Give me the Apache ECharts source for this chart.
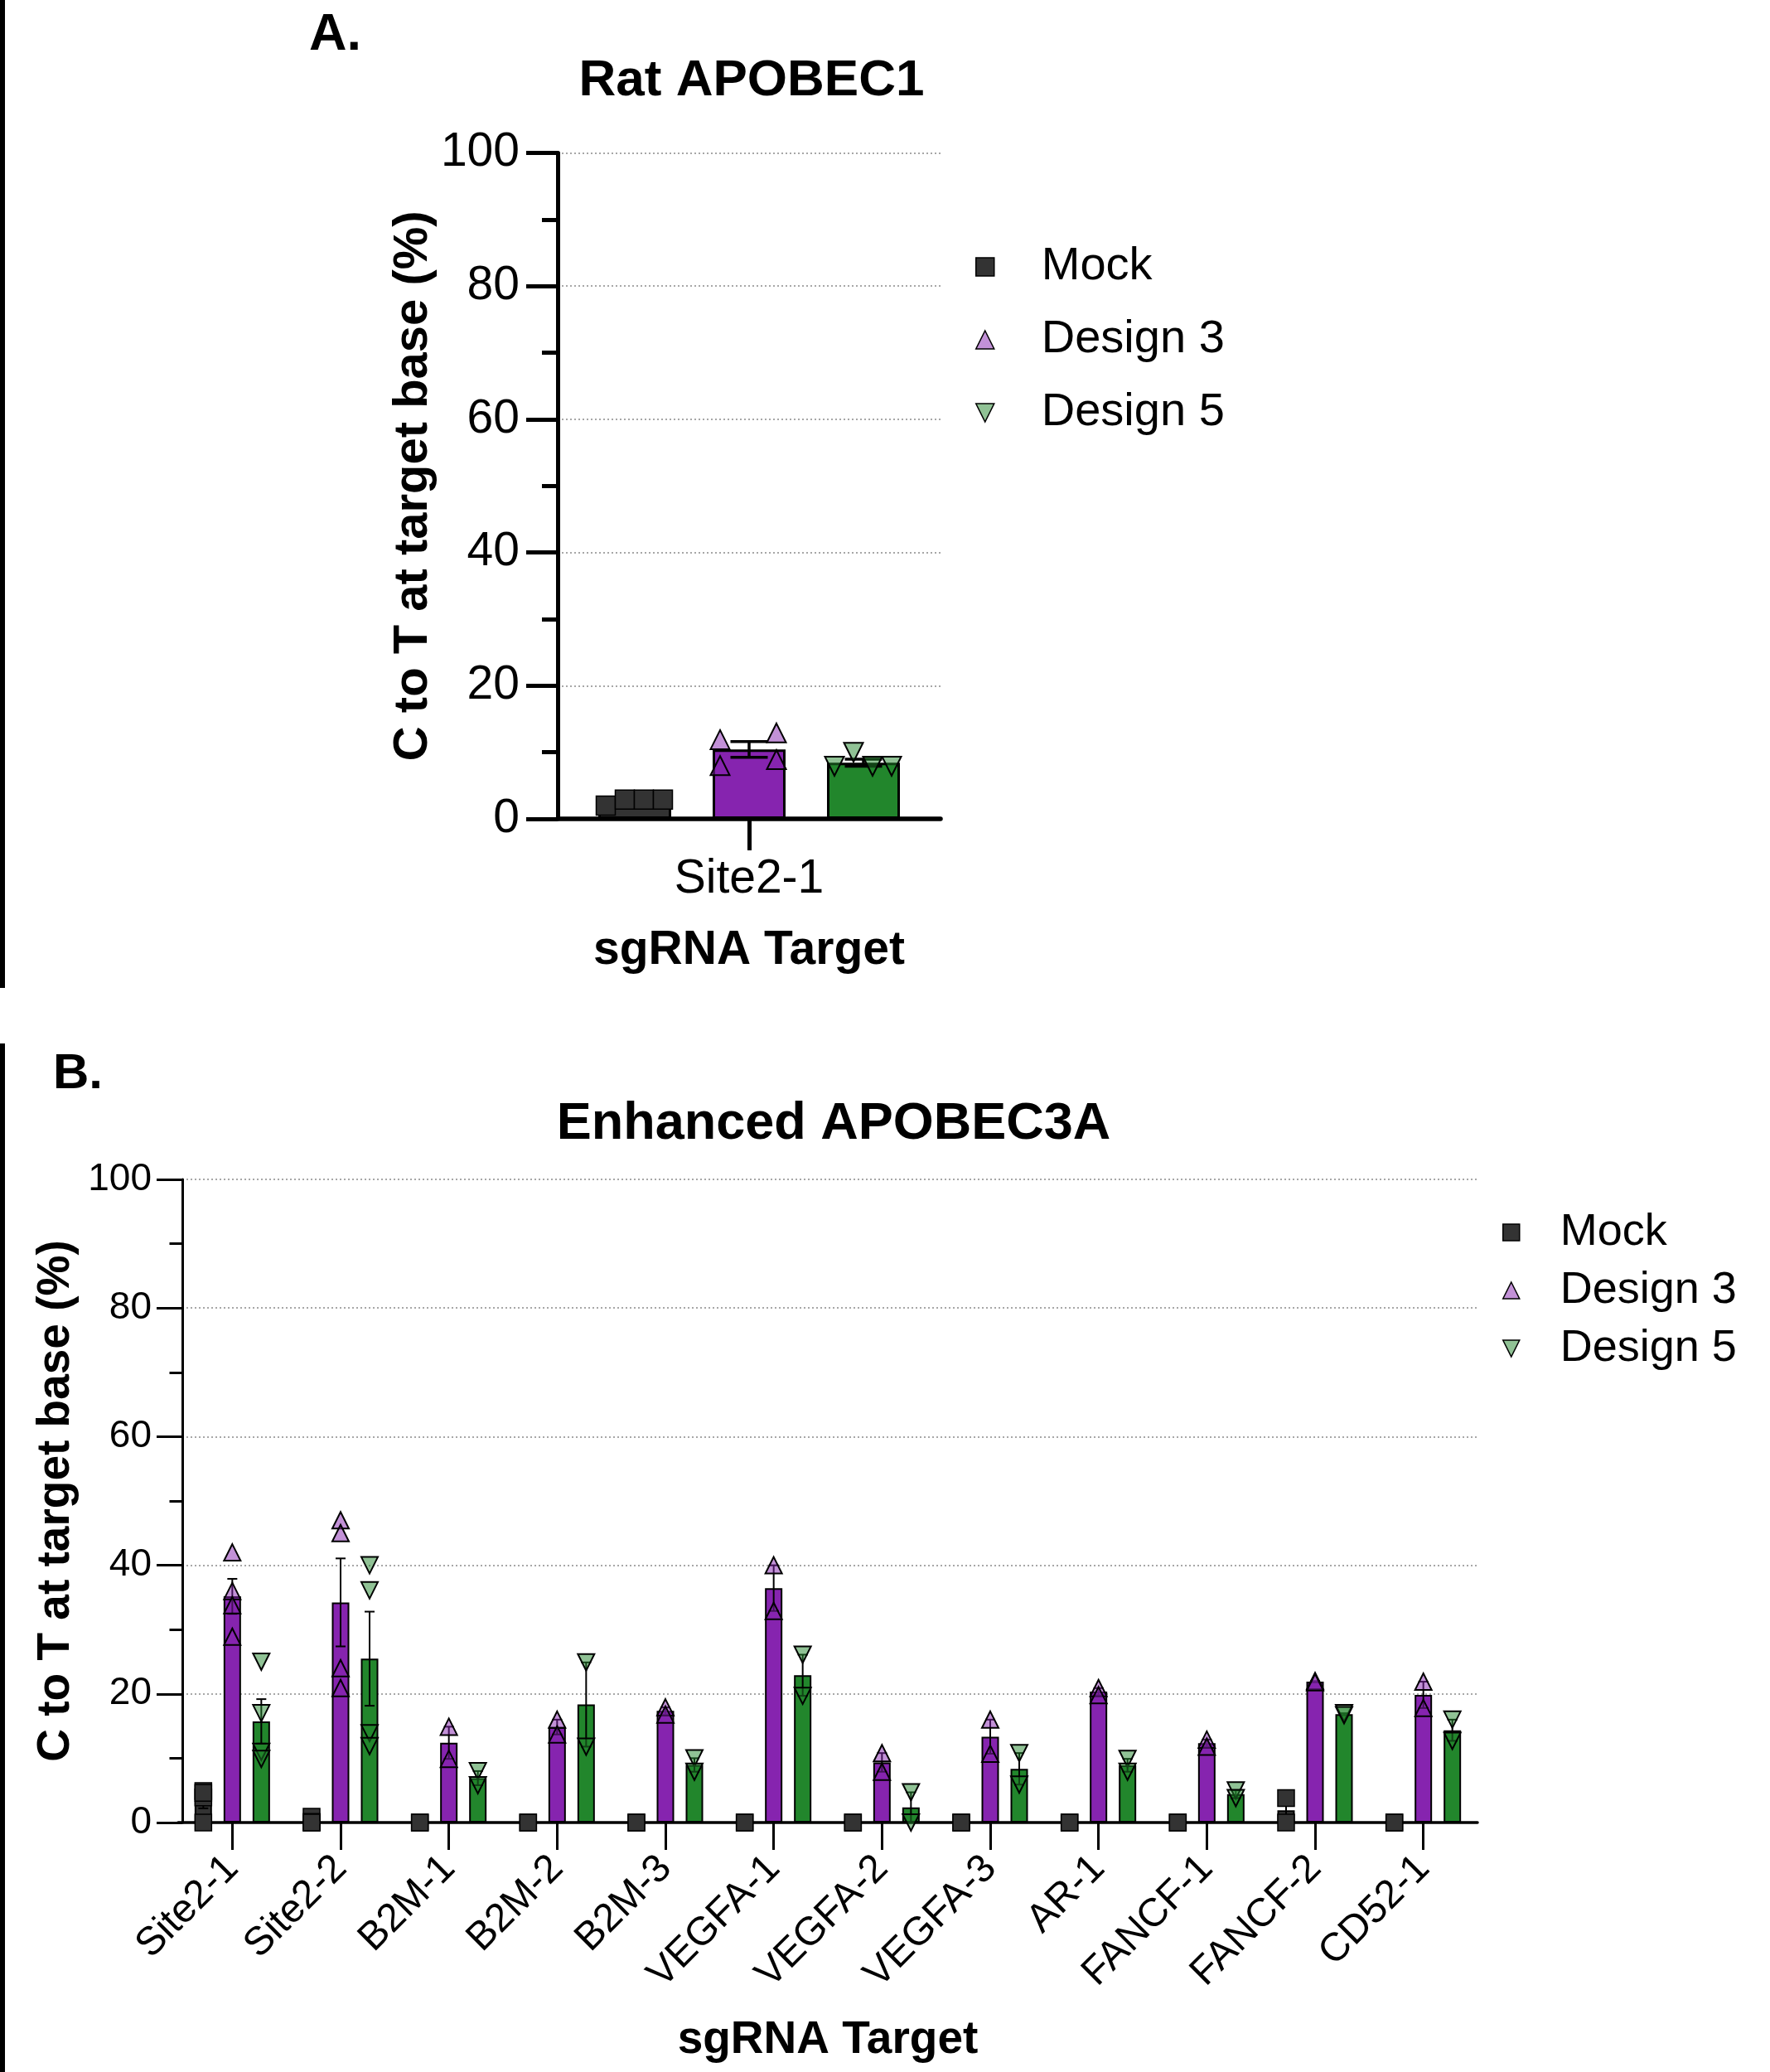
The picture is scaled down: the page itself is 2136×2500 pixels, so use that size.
<!DOCTYPE html>
<html>
<head>
<meta charset="utf-8">
<script src="https://cdn.jsdelivr.net/npm/echarts@6/dist/echarts.min.js"></script>
<style>
  html, body { margin: 0; padding: 0; background: #fff; }
  #chart { width: 2136px; height: 2500px; }
</style>
</head>
<body>
<div id="chart"></div>
<script>
// ---------------- DATA ----------------
const seriesNames = ['Mock', 'Design 3', 'Design 5'];

// Panel A: Rat APOBEC1
const categoriesA = ['Site2-1'];
const mockA    = [[2.0, 2.9, 2.9, 2.9]];
const design3A = [[11.9, 8.0, 12.9, 8.9]];
const design5A = [[7.9, 10.0, 7.9, 7.9]];

// Panel B: Enhanced APOBEC3A
const categoriesB = ['Site2-1', 'Site2-2', 'B2M-1', 'B2M-2', 'B2M-3', 'VEGFA-1',
                     'VEGFA-2', 'VEGFA-3', 'AR-1', 'FANCF-1', 'FANCF-2', 'CD52-1'];
const mockB = [[4.9, 3.9, 4.6, 0.0], [0.9, 0.1, 0.0, 0.0], [0.0, 0.0], [0.0, 0.0],
               [0.0, 0.0], [0.0, 0.0], [0.0, 0.0], [0.0, 0.0], [0.0, 0.0], [0.0, 0.0],
               [3.8, 0.0], [0.0, 0.0]];
const design3B = [[42.0, 36.0, 33.8, 28.9], [47.0, 45.0, 24.0, 20.9], [14.9, 9.9], [16.0, 13.7],
                  [17.9, 16.8], [40.0, 32.9], [10.8, 7.9], [16.0, 10.7], [20.9, 19.8], [12.9, 11.8],
                  [22.0, 21.8], [21.9, 17.8]];
const design5B = [[25.0, 17.0, 11.0, 9.9], [40.0, 36.1, 13.9, 11.9], [8.0, 5.8], [24.9, 11.8],
                  [10.0, 7.9], [26.1, 19.7], [4.7, 0.0], [10.8, 5.9], [9.9, 7.9], [5.0, 3.8],
                  [17.0, 16.7], [16.0, 12.7]];

const yTicks = [0, 20, 40, 60, 80, 100];

// ---------------- STYLE / LAYOUT ----------------
const FONT = "'Liberation Sans', Arial, Helvetica, sans-serif";
const barColors = ['#333333', '#8624AF', '#22862C'];
const pointFills = ['#333333', 'rgba(134,36,175,0.5)', 'rgba(34,134,44,0.5)'];
const shapes = ['square', 'up', 'down'];

const LA = { barW: 88, spacing: 138, pt: 23, cap: 45, errW: 3.5, border: 3,
             jitter: [[-35, -12, 11, 34], [-35, -35, 33, 33], [-35, -12, 11, 34]] };
const LB = { barW: 21, spacing: 35, pt: 20, cap: 12, errW: 2, border: 2,
             jitter: [[0, 0, 0, 0], [0, 0, 0, 0], [0, 0, 0, 0]] };

function mean(a) { return a.reduce((s, v) => s + v, 0) / a.length; }
function sem(a) {
  if (a.length < 2) return 0;
  const m = mean(a);
  const v = a.reduce((s, x) => s + (x - m) * (x - m), 0) / (a.length - 1);
  return Math.sqrt(v) / Math.sqrt(a.length);
}

function pointRender(sIdx, L) {
  const fill = pointFills[sIdx], shape = shapes[sIdx], size = L.pt;
  const off = (sIdx - 1) * L.spacing;
  return function (params, api) {
    const p = api.coord([api.value(0), api.value(1)]);
    const x = p[0] + off + L.jitter[sIdx][api.value(2)];
    const y = p[1];
    const h = size / 2;
    if (shape === 'square') {
      return { type: 'rect', shape: { x: x - h, y: y - h, width: size, height: size },
               style: { fill: fill, stroke: '#000', lineWidth: 1.5 } };
    }
    const pts = shape === 'up' ? [[x, y - h], [x + h, y + h], [x - h, y + h]]
                               : [[x - h, y - h], [x + h, y - h], [x, y + h]];
    return { type: 'polygon', shape: { points: pts },
             style: { fill: fill, stroke: '#000', lineWidth: 2 } };
  };
}

function errRender(sIdx, L) {
  const off = (sIdx - 1) * L.spacing;
  return function (params, api) {
    const c = api.value(0), m = api.value(1), e = api.value(2);
    const t = api.coord([c, m + e]), b = api.coord([c, m - e]);
    const x = t[0] + off, hc = L.cap / 2;
    const st = { stroke: '#000', lineWidth: L.errW };
    return { type: 'group', children: [
      { type: 'line', shape: { x1: x, y1: t[1], x2: x, y2: b[1] }, style: st },
      { type: 'line', shape: { x1: x - hc, y1: t[1], x2: x + hc, y2: t[1] }, style: st },
      { type: 'line', shape: { x1: x - hc, y1: b[1], x2: x + hc, y2: b[1] }, style: st }
    ]};
  };
}

function buildSeries(groups, axisIdx, L) {
  const out = [];
  const gap = ((L.spacing - L.barW) / L.barW * 100).toFixed(3) + '%';
  groups.forEach((g, s) => {
    out.push({
      name: seriesNames[s], type: 'bar', xAxisIndex: axisIdx, yAxisIndex: axisIdx,
      data: g.map(mean), barWidth: L.barW, barGap: gap, z: 2,
      itemStyle: { color: barColors[s], borderColor: '#000', borderWidth: L.border },
      emphasis: { disabled: true }
    });
  });
  groups.forEach((g, s) => {
    out.push({
      name: seriesNames[s] + ' SEM', type: 'custom', xAxisIndex: axisIdx, yAxisIndex: axisIdx,
      z: 3, silent: true, encode: { x: 0, y: 1 },
      data: g.map((reps, i) => [i, mean(reps), sem(reps)]),
      renderItem: errRender(s, L)
    });
  });
  groups.forEach((g, s) => {
    const pts = [];
    g.forEach((reps, i) => reps.forEach((v, j) => pts.push([i, v, j])));
    out.push({
      name: seriesNames[s], type: 'custom', xAxisIndex: axisIdx, yAxisIndex: axisIdx,
      z: 4, silent: true, encode: { x: 0, y: 1 },
      data: pts, renderItem: pointRender(s, L)
    });
  });
  return out;
}

function yAxisCfg(idx, o) {
  return {
    gridIndex: idx, type: 'value', min: yTicks[0], max: yTicks[yTicks.length - 1],
    interval: yTicks[1] - yTicks[0], offset: o.offset || 0,
    axisLine: { show: true, lineStyle: { color: '#000', width: o.lw } },
    axisTick: { show: true, length: o.tick, lineStyle: { color: '#000', width: o.lw } },
    minorTick: { show: true, splitNumber: 2, length: o.tick / 2, lineStyle: { color: '#000', width: o.lw } },
    splitLine: { show: true, lineStyle: { color: '#8a8a8a', width: 1.5, type: [2, 3] } },
    minorSplitLine: { show: false },
    axisLabel: { color: '#000', fontSize: o.fs, fontFamily: FONT, margin: o.margin },
    name: 'C to T at target base (%)', nameLocation: 'middle', nameGap: o.nameGap,
    nameTextStyle: { color: '#000', fontSize: o.nfs, fontWeight: 'bold', fontFamily: FONT }
  };
}

const legendIcons = ['rect', 'triangle', 'path://M0,0L10,0L5,10Z'];
function legendCfg(o) {
  return {
    orient: 'vertical', left: o.left, top: o.top, itemWidth: o.icon, itemHeight: o.icon,
    itemGap: o.gap, selectedMode: false, padding: 0,
    textStyle: { color: '#000', fontSize: o.fs, fontFamily: FONT, lineHeight: o.lh,
                 padding: [0, 0, 0, o.pad] },
    data: seriesNames.map((n, s) => ({
      name: n, icon: legendIcons[s],
      itemStyle: { color: pointFills[s], borderColor: '#000', borderWidth: 1.5 }
    }))
  };
}

const option = {
  animation: false,
  backgroundColor: '#fff',
  textStyle: { fontFamily: FONT },
  title: [
    { text: 'Rat APOBEC1', left: 907, top: 98, textAlign: 'center', textVerticalAlign: 'middle', padding: 0,
      textStyle: { color: '#000', fontSize: 62, fontWeight: 'bold', fontFamily: FONT } },
    { text: 'Enhanced APOBEC3A', left: 1006, top: 1357, textAlign: 'center', textVerticalAlign: 'middle', padding: 0,
      textStyle: { color: '#000', fontSize: 63, fontWeight: 'bold', fontFamily: FONT } }
  ],
  graphic: [
    { type: 'rect', left: 0, top: 0, shape: { width: 6, height: 1192 }, style: { fill: '#000' } },
    { type: 'rect', left: 0, top: 1259, shape: { width: 6, height: 1241 }, style: { fill: '#000' } },
    { type: 'text', x: 373, y: 43, style: { text: 'A.', fill: '#000', font: 'bold 63px ' + FONT,
      textAlign: 'left', textVerticalAlign: 'middle' } },
    { type: 'text', x: 64, y: 1296, style: { text: 'B.', fill: '#000', font: 'bold 60px ' + FONT,
      textAlign: 'left', textVerticalAlign: 'middle' } }
  ],
  legend: [
    legendCfg({ left: 1177, top: 292, icon: 22, gap: 28, fs: 56, lh: 60, pad: 52 }),
    legendCfg({ left: 1813, top: 1458, icon: 20, gap: 12, fs: 54, lh: 58, pad: 44 })
  ],
  grid: [
    { left: 673, top: 184.5, width: 462, height: 803.5 },
    { left: 215, top: 1423, width: 1568, height: 776 }
  ],
  xAxis: [
    { gridIndex: 0, type: 'category', data: categoriesA,
      axisLine: { show: true, lineStyle: { color: '#000', width: 5.5 } },
      axisTick: { show: true, alignWithLabel: true, length: 38, lineStyle: { color: '#000', width: 5 } },
      axisLabel: { color: '#000', fontSize: 57, fontFamily: FONT, margin: 45 },
      name: 'sgRNA Target', nameLocation: 'middle', nameGap: 131,
      nameTextStyle: { color: '#000', fontSize: 57, fontWeight: 'bold', fontFamily: FONT } },
    { gridIndex: 1, type: 'category', data: categoriesB,
      axisLine: { show: true, lineStyle: { color: '#000', width: 3.5 } },
      axisTick: { show: true, alignWithLabel: true, length: 33, lineStyle: { color: '#000', width: 3 } },
      axisLabel: { color: '#000', fontSize: 48, fontFamily: FONT, margin: 48, rotate: 45, interval: 0 },
      name: 'sgRNA Target', nameLocation: 'middle', nameGap: 235,
      nameTextStyle: { color: '#000', fontSize: 55, fontWeight: 'bold', fontFamily: FONT } }
  ],
  yAxis: [
    yAxisCfg(0, { lw: 5, tick: 38, fs: 57, margin: 46, nameGap: 145, nfs: 58 }),
    yAxisCfg(1, { lw: 3, tick: 31, fs: 46, margin: 37, nameGap: 113, nfs: 55, offset: -5 })
  ],
  series: [].concat(
    buildSeries([mockA, design3A, design5A], 0, LA),
    buildSeries([mockB, design3B, design5B], 1, LB)
  )
};

const chart = echarts.init(document.getElementById('chart'), null, { renderer: 'canvas', width: 2136, height: 2500 });
chart.setOption(option);
</script>
</body>
</html>
